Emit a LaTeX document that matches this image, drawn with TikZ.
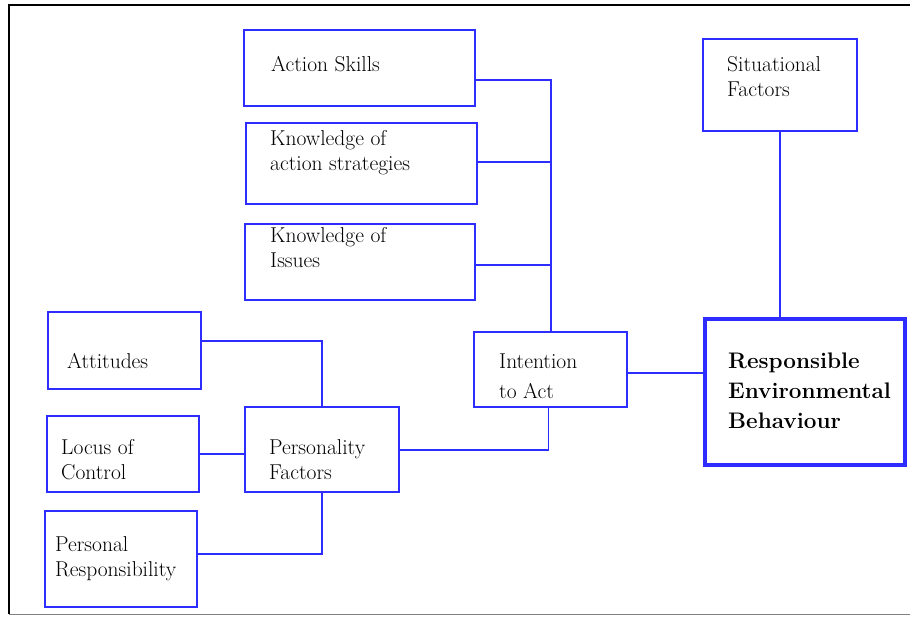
\documentclass[tikz,border=0pt]{standalone}
\definecolor{boxblue}{RGB}{45,45,255}
\begin{document}
\begin{tikzpicture}[x=1pt,y=-1pt,
  box/.style={draw=boxblue,line width=1.6pt,rectangle,inner sep=0pt},
  txt/.style={anchor=base west,inner sep=0pt,align=left,font=\fontsize{21.5}{24.5}\selectfont},
  link/.style={draw=boxblue,line width=1.6pt}]
    \useasboundingbox (0,0) rectangle (910,616);
    \draw[line width=2pt] (910,4.5) -- (8.5,4.5) -- (8.5,614);
    \draw[gray,line width=1pt] (8.5,614) -- (910,614);
    \node[box,minimum width=231pt,minimum height=76pt] (act) at (359.5,68) {};
    \node[box,minimum width=231pt,minimum height=81pt] (kas) at (361.5,163.5) {};
    \node[box,minimum width=230pt,minimum height=76pt] (kis) at (360,262) {};
    \node[box,minimum width=153pt,minimum height=77pt] (att) at (124.5,350.5) {};
    \node[box,minimum width=152pt,minimum height=76pt] (loc) at (123,454) {};
    \node[box,minimum width=154pt,minimum height=85pt] (pers) at (322,449.5) {};
    \node[box,minimum width=152pt,minimum height=96pt] (pr) at (121,559) {};
    \node[box,minimum width=153pt,minimum height=75pt] (ita) at (550.5,369.5) {};
    \node[box,line width=4.5pt,minimum width=200pt,minimum height=146pt] (reb) at (805,392) {};
    \node[box,minimum width=154pt,minimum height=92pt] (sit) at (780,85) {};
    \node[txt] (actT) at (271,71) {Action Skills};
    \node[txt] (kasT) at (270,170) {Knowledge of\\action strategies};
    \node[txt] (kisT) at (270,267) {Knowledge of\\Issues};
    \node[txt] (attT) at (67,368) {Attitudes};
    \node[txt] (locT) at (61,479) {Locus of\\Control};
    \node[txt] (persT) at (269,479) {Personality\\Factors};
    \node[txt] (prT) at (55,576) {Personal\\Responsibility};
    \node[txt,font=\fontsize{21.5}{30}\selectfont] (itaT) at (499,398) {Intention\\to Act};
    \node[txt,font=\bfseries\fontsize{22.5}{30}\selectfont] (rebT) at (728,428) {Responsible\\Environmental\\Behaviour};
    \node[txt] (sitT) at (727,96) {Situational\\Factors};
    \coordinate (bus) at (551,80);
    \draw[link] (act.east |- bus) -- (bus) -- (bus |- ita.north);
    \draw[link] ([yshift=1.5pt]kas.east) -- ([yshift=1.5pt]kas.east -| bus);
    \draw[link] ([yshift=-3pt]kis.east) -- ([yshift=-3pt]kis.east -| bus);
    \draw[link] ([yshift=9.5pt]att.east) -| (pers.north);
    \draw[link] (loc.east) -- (loc.east -| pers.west);
    \draw[link] ([yshift=5pt]pr.east) -| (pers.south);
    \draw[link] ([yshift=-0.5pt]pers.east) -| ([xshift=-2pt]ita.south);
    \draw[link] ([yshift=-3.5pt]ita.east) -- ([yshift=-3.5pt]ita.east -| reb.west);
    \draw[link] (sit.south) -- (sit.south |- reb.north);
\end{tikzpicture}
\end{document}
